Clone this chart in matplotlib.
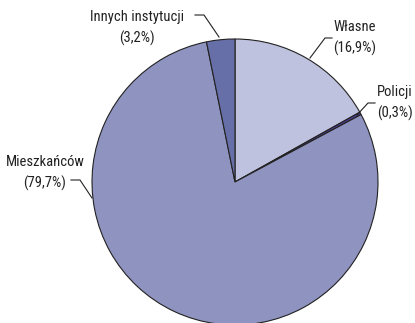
import matplotlib.pyplot as plt

names = ['Własne', 'Policji', 'Mieszkańców', 'Innych instytucji']
shares = [16.9, 0.3, 79.7, 3.2]
colors = ['#bec2de', '#4b3a8c', '#8f93c0', '#676fa8']

plt.rcParams['font.family'] = ['Roboto Condensed', 'PT Sans Narrow', 'DejaVu Sans']

fig = plt.figure(figsize=(4.15, 3.23), dpi=100)
ax = fig.add_axes([0, 0, 1, 1])

ax.pie(shares, colors=colors, startangle=90, counterclock=False,
       center=(235, 141), radius=143, frame=True,
       wedgeprops=dict(edgecolor='#222222', linewidth=0.8))
ax.set_xlim(0, 415)
ax.set_ylim(0, 323)
ax.set_aspect('equal')
ax.axis('off')

def lbl(i):
    return f'{names[i]}\n({shares[i]:.1f}%)'.replace('.', ',')

tk = dict(fontsize=10.5, color='#222222', linespacing=1.55)
lk = dict(color='#222222', lw=0.8)

# Własne
ax.plot([310, 325, 332], [265, 285, 285], **lk)
ax.text(333, 285, lbl(0), ha='left', va='center', **tk)
# Policji
ax.plot([357, 368, 375], [208, 220, 220], **lk)
ax.text(377, 220, lbl(1), ha='left', va='center', **tk)
# Mieszkańców
ax.plot([92, 80, 71], [125, 143, 143], **lk)
ax.text(45, 150, lbl(2), ha='center', va='center', **tk)
# Innych instytucji
ax.plot([219, 204, 195], [286, 308, 308], **lk)
ax.text(137, 295, lbl(3), ha='center', va='center', **tk)

fig.savefig('out.png', dpi=100)
